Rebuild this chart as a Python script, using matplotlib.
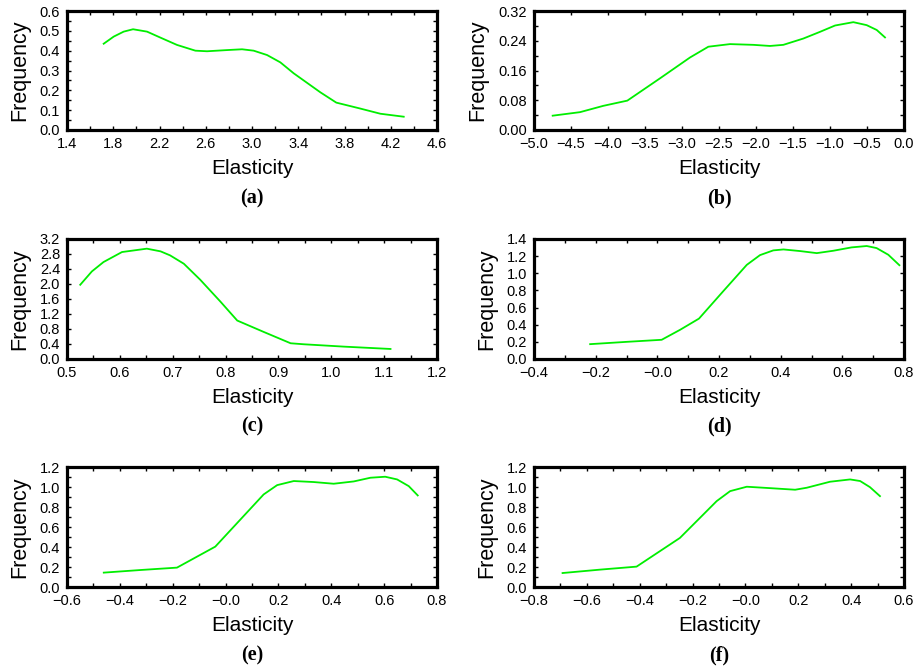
import numpy as np
import matplotlib
matplotlib.use('Agg')
import matplotlib.pyplot as plt
from matplotlib.ticker import FixedLocator, MultipleLocator

plt.rcParams['font.family'] = ['Liberation Sans', 'DejaVu Sans']

# curves (elasticity, frequency)
a_x = [1.717, 1.804, 1.890, 1.971, 2.092, 2.207, 2.351, 2.510, 2.611, 2.784, 2.914,
       3.014, 3.130, 3.245, 3.360, 3.591, 3.729, 3.937, 4.110, 4.312]
a_y = [0.435, 0.471, 0.496, 0.508, 0.496, 0.466, 0.429, 0.400, 0.397, 0.403, 0.407,
       0.400, 0.378, 0.341, 0.286, 0.190, 0.138, 0.108, 0.082, 0.067]

b_x = [-4.748, -4.378, -4.063, -3.739, -3.297, -2.892, -2.644, -2.351, -2.036, -1.811,
       -1.631, -1.360, -1.135, -0.932, -0.685, -0.505, -0.369, -0.257]
b_y = [0.0385, 0.048, 0.065, 0.079, 0.139, 0.195, 0.224, 0.231, 0.229, 0.226,
       0.229, 0.246, 0.264, 0.281, 0.290, 0.282, 0.269, 0.249]

c_x = [0.525, 0.547, 0.569, 0.604, 0.651, 0.677, 0.695, 0.721, 0.752, 0.790,
       0.822, 0.872, 0.923, 0.948, 1.023, 1.112]
c_y = [1.979, 2.335, 2.585, 2.852, 2.942, 2.870, 2.763, 2.540, 2.113, 1.533,
       1.025, 0.722, 0.419, 0.392, 0.330, 0.267]

d_x = [-0.218, -0.099, 0.014, 0.074, 0.135, 0.214, 0.290, 0.333, 0.376, 0.409,
       0.463, 0.517, 0.571, 0.630, 0.679, 0.711, 0.749, 0.785]
d_y = [0.173, 0.200, 0.224, 0.341, 0.471, 0.792, 1.098, 1.212, 1.267, 1.278,
       1.259, 1.235, 1.263, 1.302, 1.318, 1.294, 1.216, 1.094]

e_x = [-0.461, -0.323, -0.184, -0.039, 0.056, 0.144, 0.195, 0.258, 0.333, 0.409,
       0.485, 0.548, 0.604, 0.649, 0.693, 0.727]
e_y = [0.144, 0.170, 0.194, 0.404, 0.675, 0.926, 1.019, 1.060, 1.050, 1.033,
       1.056, 1.093, 1.103, 1.076, 1.009, 0.916]

f_x = [-0.692, -0.550, -0.412, -0.248, -0.172, -0.109, -0.058, 0.005, 0.093, 0.188,
       0.232, 0.320, 0.396, 0.434, 0.471, 0.509]
f_y = [0.140, 0.174, 0.204, 0.491, 0.692, 0.859, 0.959, 1.003, 0.989, 0.973,
       0.993, 1.053, 1.076, 1.060, 0.999, 0.909]

# tick values / labels
a_xt = [1.4, 1.8, 2.2, 2.6, 3.0, 3.4, 3.8, 4.2, 4.6]
a_xl = ['1.4', '1.8', '2.2', '2.6', '3.0', '3.4', '3.8', '4.2', '4.6']
a_yt = [0.0, 0.1, 0.2, 0.3, 0.4, 0.5, 0.6]
a_yl = ['0.0', '0.1', '0.2', '0.3', '0.4', '0.5', '0.6']

b_xt = [-5.0, -4.5, -4.0, -3.5, -3.0, -2.5, -2.0, -1.5, -1.0, -0.5, 0.0]
b_xl = ['\u22125.0', '\u22124.5', '\u22124.0', '\u22123.5', '\u22123.0', '\u22122.5',
        '\u22122.0', '\u22121.5', '\u22121.0', '\u22120.5', '0.0']
b_yt = [0.0, 0.08, 0.16, 0.24, 0.32]
b_yl = ['0.00', '0.08', '0.16', '0.24', '0.32']

c_xt = [0.5, 0.6, 0.7, 0.8, 0.9, 1.0, 1.1, 1.2]
c_xl = ['0.5', '0.6', '0.7', '0.8', '0.9', '1.0', '1.1', '1.2']
c_yt = [0.0, 0.4, 0.8, 1.2, 1.6, 2.0, 2.4, 2.8, 3.2]
c_yl = ['0.0', '0.4', '0.8', '1.2', '1.6', '2.0', '2.4', '2.8', '3.2']

d_xt = [-0.4, -0.2, 0.0, 0.2, 0.4, 0.6, 0.8]
d_xl = ['\u22120.4', '\u22120.2', '\u22120.0', '0.2', '0.4', '0.6', '0.8']
d_yt = [0.0, 0.2, 0.4, 0.6, 0.8, 1.0, 1.2, 1.4]
d_yl = ['0.0', '0.2', '0.4', '0.6', '0.8', '1.0', '1.2', '1.4']

e_xt = [-0.6, -0.4, -0.2, 0.0, 0.2, 0.4, 0.6, 0.8]
e_xl = ['\u22120.6', '\u22120.4', '\u22120.2', '\u22120.0', '0.2', '0.4', '0.6', '0.8']
e_yt = [0.0, 0.2, 0.4, 0.6, 0.8, 1.0, 1.2]
e_yl = ['0.0', '0.2', '0.4', '0.6', '0.8', '1.0', '1.2']

f_xt = [-0.8, -0.6, -0.4, -0.2, 0.0, 0.2, 0.4, 0.6]
f_xl = ['\u22120.8', '\u22120.6', '\u22120.4', '\u22120.2', '\u22120.0', '0.2', '0.4', '0.6']
f_yt = e_yt
f_yl = e_yl

captions = ['(a)', '(b)', '(c)', '(d)', '(e)', '(f)']

# panel: data, ticks, minor step (None = no minor), axes rect
panels = [
    (a_x, a_y, a_xt, a_xl, a_yt, a_yl, 0.2, 0.05, [0.0727, 0.8051, 0.4013, 0.1784]),
    (b_x, b_y, b_xt, b_xl, b_yt, b_yl, None, 0.04, [0.5792, 0.8051, 0.4013, 0.1784]),
    (c_x, c_y, c_xt, c_xl, c_yt, c_yl, 0.05, None, [0.0727, 0.4618, 0.4013, 0.1799]),
    (d_x, d_y, d_xt, d_xl, d_yt, d_yl, 0.1, None, [0.5792, 0.4618, 0.4013, 0.1799]),
    (e_x, e_y, e_xt, e_xl, e_yt, e_yl, 0.1, 0.1, [0.0727, 0.1199, 0.4013, 0.1799]),
    (f_x, f_y, f_xt, f_xl, f_yt, f_yl, 0.1, 0.1, [0.5792, 0.1199, 0.4013, 0.1799]),
]

fig = plt.figure(figsize=(9.22, 6.67), dpi=100)

for i, (xs, ys, xt, xl, yt, yl, xminor, yminor, rect) in enumerate(panels):
    ax = fig.add_axes(rect)
    ax.plot(xs, ys, color='#00ee00', linewidth=1.3)
    ax.set_xlim(xt[0], xt[-1])
    ax.set_ylim(yt[0], yt[-1])
    ax.xaxis.set_major_locator(FixedLocator(xt))
    ax.set_xticklabels(xl)
    ax.yaxis.set_major_locator(FixedLocator(yt))
    ax.set_yticklabels(yl)
    if xminor:
        ax.xaxis.set_minor_locator(MultipleLocator(xminor))
    if yminor:
        ax.yaxis.set_minor_locator(MultipleLocator(yminor))
    ax.tick_params(which='both', direction='in', top=True, right=True,
                   length=3, width=1, labelsize=10.5, pad=5)
    for s in ax.spines.values():
        s.set_linewidth(2.3)
    ax.set_xlabel('Elasticity', fontsize=15, labelpad=6)
    ax.set_ylabel('Frequency', fontsize=15.5, labelpad=7)
    ax.annotate(captions[i], xy=(0.5, 0), xycoords='axes fraction',
                xytext=(0, -68), textcoords='offset pixels',
                ha='center', va='center', fontsize=14.5, fontweight='bold',
                family=['Liberation Serif', 'DejaVu Serif'])

fig.savefig('out.png', dpi=100)
